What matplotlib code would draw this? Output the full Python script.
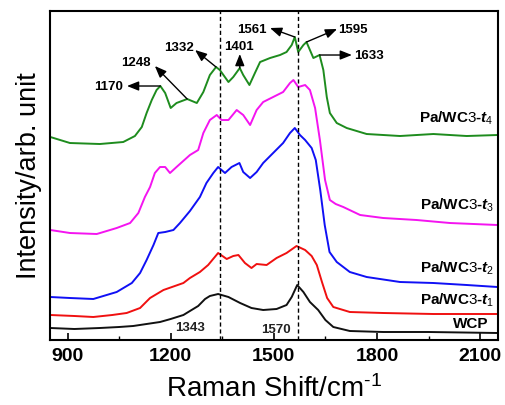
import matplotlib.pyplot as plt
from matplotlib.ticker import MultipleLocator

plt.rcParams['font.family'] = ['Liberation Sans', 'DejaVu Sans']
plt.rcParams['mathtext.fontset'] = 'custom'
plt.rcParams['mathtext.it'] = 'Liberation Sans:italic:bold'
plt.rcParams['mathtext.rm'] = 'Liberation Sans'

# Raman spectra (arb. units, offset for stacking)
wcp_x = [850, 920, 994, 1050, 1091, 1130, 1169, 1200, 1237, 1256, 1280, 1300, 1314, 1338, 1368,
         1402, 1435, 1469, 1508, 1537, 1552, 1568, 1586, 1605, 1629, 1650, 1673, 1721, 1818,
         1950, 2150]
wcp_y = [12, 11, 12, 13, 14, 16, 18, 21, 25, 29, 34, 41, 44, 46, 43,
         37, 32, 30, 31, 35, 43, 55, 48, 38, 30, 20, 13, 9, 8,
         8, 7]

t1_x = [850, 920, 975, 1030, 1072, 1111, 1140, 1179, 1237, 1256, 1285, 1309, 1338, 1363, 1382,
        1397, 1416, 1435, 1450, 1479, 1508, 1537, 1566, 1591, 1610, 1625, 1640, 1655, 1673,
        1721, 1818, 1964, 2150]
t1_y = [25, 24, 23, 25, 27, 32, 42, 50, 57, 62, 68, 75, 87, 81, 84,
        85, 77, 72, 76, 75, 82, 87, 94, 90, 84, 75, 58, 42, 33,
        28, 27, 26, 26]

t2_x = [850, 907, 975, 1043, 1087, 1111, 1130, 1150, 1164, 1184, 1208, 1227, 1256, 1285, 1304,
        1324, 1338, 1358, 1377, 1400, 1411, 1431, 1450, 1469, 1498, 1527, 1547, 1561, 1576,
        1591, 1610, 1622, 1635, 1648, 1662, 1683, 1721, 1770, 1867, 1964, 2061, 2150]
t2_y = [43, 42, 41, 48, 57, 67, 80, 95, 107, 108, 110, 117, 129, 143, 157,
        167, 173, 167, 173, 177, 168, 162, 168, 177, 187, 197, 207, 212, 205,
        200, 192, 180, 150, 115, 88, 78, 68, 63, 58, 57, 55, 53]

t3_x = [850, 907, 985, 1043, 1082, 1106, 1125, 1140, 1154, 1169, 1184, 1198, 1217, 1256, 1280,
        1295, 1314, 1334, 1348, 1368, 1392, 1411, 1431, 1450, 1469, 1498, 1527, 1547, 1557,
        1571, 1591, 1605, 1620, 1634, 1649, 1663, 1680, 1702, 1751, 1818, 1915, 2012, 2150]
t3_y = [110, 107, 106, 112, 117, 127, 143, 153, 167, 173, 173, 167, 173, 185, 190,
        207, 220, 225, 220, 220, 230, 225, 215, 230, 238, 243, 248, 257, 260,
        253, 255, 250, 232, 200, 160, 140, 136, 133, 125, 122, 120, 117, 115]

t4_x = [850, 907, 994, 1062, 1096, 1116, 1130, 1145, 1159, 1170, 1184, 1200, 1217, 1248, 1276,
        1295, 1314, 1332, 1343, 1368, 1382, 1401, 1411, 1429, 1445, 1460, 1489, 1518, 1537,
        1552, 1561, 1571, 1586, 1595, 1615, 1633, 1644, 1654, 1663, 1683, 1712, 1770, 1867,
        1964, 2061, 2150]
t4_y = [203, 197, 196, 198, 204, 213, 227, 240, 250, 254, 247, 232, 237, 241, 237,
        248, 265, 273, 270, 258, 263, 272, 265, 255, 267, 278, 282, 285, 288,
        295, 303, 288, 295, 298, 282, 285, 270, 243, 227, 217, 212, 206, 204,
        206, 204, 205]

series = [
    (wcp_x, wcp_y, '#111111'),
    (t1_x, t1_y, '#f01010'),
    (t2_x, t2_y, '#1010f5'),
    (t3_x, t3_y, '#f414f0'),
    (t4_x, t4_y, '#1e8c1e'),
]
curve_labels = ['WCP', r'Pa/WC$\mathit{3}$-$\mathit{t_1}$', r'Pa/WC$\mathit{3}$-$\mathit{t_2}$',
                r'Pa/WC$\mathit{3}$-$\mathit{t_3}$', r'Pa/WC$\mathit{3}$-$\mathit{t_4}$']
label_x = [2123, 2140, 2140, 2140, 2140]
label_y = [12, 35, 67, 130, 217]

# peaks marked on the top spectrum
peak_marks = [1170, 1248, 1332, 1401, 1561, 1595, 1633]
peak_tip_y = [254, 241, 273, 272, 303, 298, 285]
peak_text_xy = [(1018, 253), (1099, 277), (1224, 292), (1399, 293), (1437, 310), (1731, 310), (1777, 284)]
arrow_end_xy = [(1073, 254), (1154, 274), (1271, 290), (1401, 286), (1489, 312), (1684, 311), (1727, 285)]

ref_lines = [1343, 1570]
ref_text_xy = [(1256, 12), (1506, 10)]

fig = plt.figure(figsize=(5.06, 4.05), dpi=100)
ax = fig.add_axes([0.0988, 0.1605, 0.8854, 0.8123])

for x, y, c in series:
    ax.plot(x, y, color=c, lw=1.4)

for xv in ref_lines:
    ax.axvline(xv, color='black', lw=1.0, ls=(0, (3, 2)))
for xv, (tx, ty) in zip(ref_lines, ref_text_xy):
    ax.text(tx, ty, str(xv), fontsize=9.5, fontweight='bold', color='#222222',
            ha='center', va='center')

for pk, py, (tx, ty), (ex, ey) in zip(peak_marks, peak_tip_y, peak_text_xy, arrow_end_xy):
    ax.annotate('', xy=(ex, ey), xytext=(pk, py),
                arrowprops=dict(arrowstyle='-|>,head_length=0.7,head_width=0.28',
                                color='black', lw=1.0, mutation_scale=10,
                                shrinkA=0, shrinkB=0))
    ax.text(tx, ty, str(pk), fontsize=9.5, fontweight='bold', ha='center', va='center')

for lab, lx, ly in zip(curve_labels, label_x, label_y):
    ax.text(lx, ly, lab, fontsize=11, fontweight='bold', ha='right', va='baseline')

ax.set_xlim(849, 2152)
ax.set_ylim(0, 329)
ax.set_yticks([])
ax.xaxis.set_major_locator(MultipleLocator(300))
ax.xaxis.set_minor_locator(MultipleLocator(150))
ax.tick_params(axis='x', which='major', direction='in', length=5, width=1.2,
               labelsize=14, pad=6)
ax.tick_params(axis='x', which='minor', direction='in', length=3, width=1.0)
for lab in ax.get_xticklabels():
    lab.set_fontweight('bold')
for sp in ax.spines.values():
    sp.set_linewidth(1.5)

ax.set_xlabel('Raman Shift/cm$^{\\mathregular{\u2010}1}$', fontsize=20, labelpad=7)
ax.set_ylabel('Intensity/arb. unit', fontsize=19.5, labelpad=6)

fig.savefig('out.png', dpi=100)
